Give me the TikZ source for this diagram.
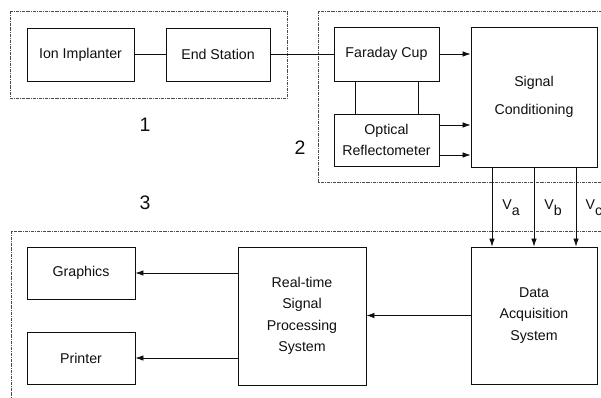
\documentclass[tikz,border=0pt]{standalone}
\usepackage{fontspec}
\setmainfont{Liberation Sans}
\usetikzlibrary{arrows.meta}
\definecolor{ink}{gray}{0.06}
\begin{document}
\begin{tikzpicture}[x=1pt,y=-1pt,
  blk/.style={draw=ink, line width=0.85pt, inner sep=2pt, align=center,
    text=ink, font=\fontsize{14.2}{21.5}\selectfont},
  link/.style={draw=ink, line width=0.75pt},
  arr/.style={link, -{Latex[length=8pt,width=5.5pt]}},
  group/.style={draw=ink!75, line width=0.6pt,
    dash pattern=on 3pt off 1pt on 0.8pt off 1pt},
  num/.style={text=ink, font=\fontsize{19.5}{19.5}\selectfont},
  vlab/.style={text=ink, font=\fontsize{14.2}{15}\selectfont}]
\useasboundingbox (0,0) rectangle (601,397);
\clip (0,0) rectangle (601,397);

% subsystem frames
\draw[group] (10,11) rectangle (287,98);
\draw[group] (318,11) rectangle (640,182);
\draw[group] (11,231) rectangle (640,440);

% subsystem numbers
\node[num] (n1) at (145,125) {1};
\node[num] (n2) at (300,148) {2};
\node[num] (n3) at (145,203) {3};

% subsystem 1
\node[blk, minimum width=107pt, minimum height=53pt] (ion) at (80.5,54.5) {Ion Implanter};
\node[blk, minimum width=104pt, minimum height=53pt] (end) at (218,54.5) {End Station};

% subsystem 2
\node[blk, minimum width=105pt, minimum height=54pt] (fc) at (386.5,54) {Faraday Cup};
\node[blk, minimum width=105pt, minimum height=52pt] (opt) at (386.5,140) {Optical\\Reflectometer};
\node[blk, minimum width=126pt, minimum height=140pt] (sc) at (534,97) {Signal\\[6pt]Conditioning};

% subsystem 3
\node[blk, minimum width=108pt, minimum height=52pt] (gr) at (81,273) {Graphics};
\node[blk, minimum width=108pt, minimum height=52pt] (pr) at (81,358) {Printer};
\node[blk, minimum width=128pt, minimum height=138pt] (rt) at (302,316) {Real-time\\Signal\\Processing\\System};
\node[blk, minimum width=126pt, minimum height=137pt] (das) at (534,315.5) {Data\\Acquisition\\System};

% connections
\draw[link] (ion) -- (end);
\draw[link] (end.east) -- (end.east -| fc.west);
\draw[link] ([xshift=-31.5pt]fc.south) -- ([xshift=-31.5pt]opt.north);
\draw[link] ([xshift=31.5pt]fc.south) -- ([xshift=31.5pt]opt.north);
\draw[arr] (fc.east) -- (fc.east -| sc.west);
\draw[arr] ([yshift=15pt]opt.east) -- ([yshift=15pt]opt.east -| sc.west);
\draw[arr] ([yshift=-15pt]opt.east) -- ([yshift=-15pt]opt.east -| sc.west);

\draw[arr] ([xshift=-42pt]sc.south) -- ([xshift=-42pt]das.north);
\draw[arr] (sc.south) -- (das.north);
\draw[arr] ([xshift=42pt]sc.south) -- ([xshift=42pt]das.north);
\node[vlab] (va) at (511,208) {V\raisebox{-6pt}{a}};
\node[vlab] (vb) at (553,208) {V\raisebox{-6pt}{b}};
\node[vlab] (vc) at (594,208) {V\raisebox{-6pt}{c}};

\draw[arr] (das.west) -- (das.west -| rt.east);
\draw[arr] (rt.west |- gr.east) -- (gr.east);
\draw[arr] (rt.west |- pr.east) -- (pr.east);
\end{tikzpicture}
\end{document}
